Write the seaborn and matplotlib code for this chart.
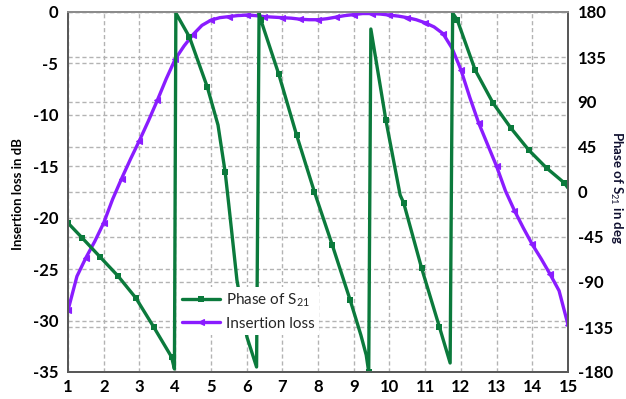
import matplotlib
matplotlib.use("Agg")
import matplotlib.pyplot as plt
import seaborn as sns

# ---------------- data ----------------
freq_ticks = list(range(1, 16))
loss_ticks = [0, -5, -10, -15, -20, -25, -30, -35]
phase_ticks = [180, 135, 90, 45, 0, -45, -90, -135, -180]

il_x = [1.00, 1.25, 1.50, 1.75, 2.00, 2.25, 2.50, 2.75, 3.00, 3.25, 3.50, 3.75,
        4.00, 4.25, 4.50, 4.75, 5.00, 5.25, 5.50, 5.75, 6.00, 6.25, 6.50, 6.75,
        7.00, 7.25, 7.50, 7.75, 8.00, 8.25, 8.50, 8.75, 9.00, 9.25, 9.50, 9.75,
        10.00, 10.25, 10.50, 10.75, 11.00, 11.25, 11.50, 11.75, 12.00, 12.25,
        12.50, 12.75, 13.00, 13.25, 13.50, 13.75, 14.00, 14.25, 14.50, 14.75, 15.00]
il_db = [-29.0, -25.7, -23.9, -22.3, -20.5, -18.2, -16.2, -14.3, -12.5, -10.6, -8.6, -6.5,
         -4.6, -3.3, -2.2, -1.3, -0.8, -0.55, -0.45, -0.35, -0.3, -0.35, -0.45, -0.5,
         -0.55, -0.6, -0.7, -0.75, -0.75, -0.65, -0.5, -0.35, -0.25, -0.15, -0.15, -0.2,
         -0.3, -0.4, -0.55, -0.75, -1.05, -1.45, -2.1, -3.5, -5.6, -8.3,
         -10.8, -12.9, -15.0, -17.4, -19.3, -21.0, -22.6, -24.0, -25.5, -27.1, -30.4]

phase_x = [1.00, 1.40, 1.90, 2.40, 2.90, 3.40, 3.90, 3.98,
           4.02, 4.40, 4.90, 5.20, 5.40, 5.50, 5.73, 5.90, 6.01, 6.28,
           6.35, 6.40, 6.90, 7.40, 7.90, 8.40, 8.90, 9.20, 9.35, 9.42,
           9.48, 9.90, 10.30, 10.40, 10.90, 11.40, 11.70,
           11.77, 11.90, 12.40, 12.90, 13.40, 13.90, 14.40, 14.90, 15.00]
phase_deg = [-31, -46, -65, -84, -106, -135, -165, -177,
             179, 155, 105, 67, 20, -12, -88, -123, -145, -175,
             179, 172, 118, 57, 0, -53, -108, -143, -163, -180,
             163, 72, -3, -11, -76, -135, -171,
             179, 172, 122, 89, 64, 42, 24, 9, 4]
phase_marked = [1, 1, 1, 1, 1, 1, 1, 0,
                0, 1, 1, 0, 1, 0, 0, 1, 0, 0,
                0, 1, 1, 1, 1, 1, 1, 0, 0, 1,
                0, 1, 0, 1, 1, 1, 0,
                0, 1, 1, 1, 1, 1, 1, 1, 0]

# ---------------- style ----------------
sns.set_style("white")
plt.rcParams['font.family'] = ['Lato', 'DejaVu Sans']
plt.rcParams['axes.unicode_minus'] = False
plt.rcParams['mathtext.fontset'] = 'custom'
plt.rcParams['mathtext.rm'] = 'Lato'
plt.rcParams['mathtext.bf'] = 'Lato:bold'

GREEN = "#0b7a3c"
PURPLE = "#8a1cff"
GRID = "#b3b3b3"
SPINE = "#595959"
DASH = (0, (3, 2))

fig = plt.figure(figsize=(6.26, 3.99), dpi=100)
ax_grid = fig.add_axes([68 / 626, 1 - 372 / 399, 500 / 626, 360 / 399])
ax = ax_grid.twinx()
ax2 = ax_grid.twinx()

for a in (ax_grid, ax, ax2):
    a.set_xlim(1, 15)
    for s in a.spines.values():
        s.set_color(SPINE)
        s.set_linewidth(1.3)
    a.spines['top'].set_color("#8c8c8c")

ax_grid.set_zorder(0)
ax.set_zorder(1)
ax2.set_zorder(2)
ax.patch.set_visible(False)
ax2.patch.set_visible(False)

tick_font = dict(fontsize=12, fontweight='bold', color='black')

# bottom layer: x axis, vertical grid and right-axis horizontal grid
ax_grid.set_ylim(-180, 180)
ax_grid.set_yticks(phase_ticks)
ax_grid.set_xticks(freq_ticks)
ax_grid.set_xticklabels([str(v) for v in freq_ticks], **tick_font)
ax_grid.grid(True, color=GRID, linestyle=DASH, linewidth=1)
ax_grid.tick_params(axis='y', left=False, labelleft=False)
ax_grid.tick_params(axis='x', length=0, pad=5)

# left axis: insertion loss
ax.yaxis.tick_left()
ax.yaxis.set_label_position('left')
ax.set_ylim(-35, 0)
ax.set_yticks(loss_ticks)
ax.grid(True, axis='y', color=GRID, linestyle=DASH, linewidth=1)
sns.lineplot(x=il_x, y=il_db, ax=ax, color=PURPLE, linewidth=2.4,
             marker='<', markersize=4.5, markevery=2, markeredgewidth=0.8,
             markeredgecolor=PURPLE, estimator=None, legend=False)

# right axis: phase
ax2.set_ylim(-180, 180)
ax2.set_yticks(phase_ticks)
marks = [i for i, m in enumerate(phase_marked) if m]
sns.lineplot(x=phase_x, y=phase_deg, ax=ax2, color=GREEN, linewidth=2.4,
             marker='s', markersize=5, markevery=marks, markeredgewidth=0,
             estimator=None, legend=False, sort=False)

ax.set_yticklabels([str(v) for v in loss_ticks], **tick_font)
ax2.set_yticklabels([str(v) for v in phase_ticks], **tick_font)
ax.tick_params(axis='y', length=0, pad=7)
ax2.tick_params(axis='y', length=0, pad=7)
for a in (ax, ax2):
    a.set_xlabel("")

ax.set_ylabel("Insertion loss in dB", fontsize=9.5, fontweight='bold', color='black')
ax.yaxis.set_label_coords(-0.088, 0.493)
ax2.set_ylabel("Phase of S$_{21}$ in deg", fontsize=9.5, fontweight='bold',
               color='#101030', rotation=270, va='bottom')
ax2.yaxis.set_label_coords(1.08, 0.512)

h_phase = ax2.get_lines()[0]
h_il = ax.get_lines()[0]
leg = ax2.legend([h_phase, h_il], ["Phase of S$_{21}$", "Insertion loss"],
                 loc='center left', bbox_to_anchor=(0.218, 0.169),
                 frameon=True, facecolor='white', edgecolor='none', framealpha=1,
                 fontsize=11, handlelength=2.5, handletextpad=0.4,
                 borderpad=0.3, labelspacing=0.5, borderaxespad=0, fancybox=False)

fig.savefig("out.png", dpi=100)
